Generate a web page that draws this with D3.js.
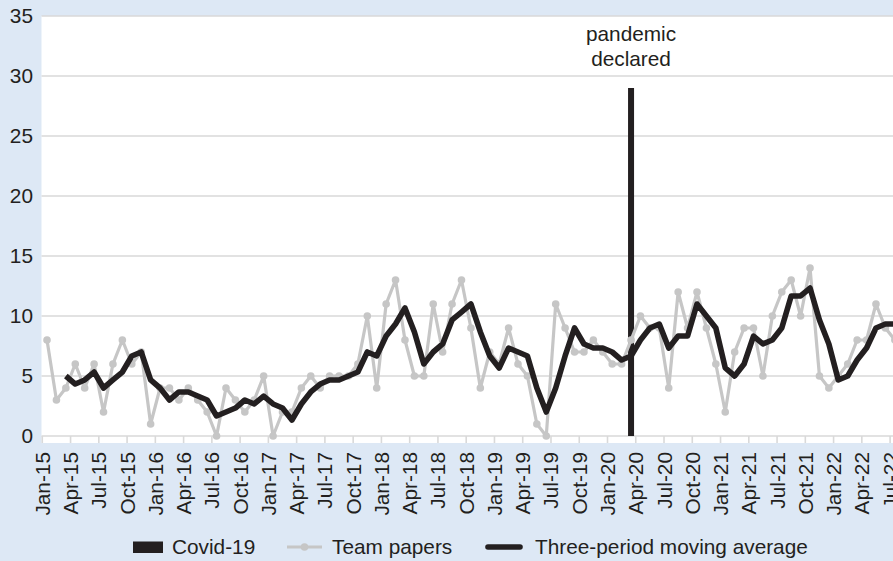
<!DOCTYPE html>
<html>
<head>
<meta charset="utf-8">
<script src="https://cdn.jsdelivr.net/npm/d3@7"></script>
<style>
  html, body { margin: 0; padding: 0; background: #dde8f5; }
  svg { display: block; font-family: "Liberation Sans", Arial, Helvetica, sans-serif; }
</style>
</head>
<body>
<svg id="chart" width="893" height="561"></svg>
<script>
"use strict";

// months Jan-15 .. Sep-22 (the chart is cut off on the right)
var monthNames = ["Jan","Feb","Mar","Apr","May","Jun","Jul","Aug","Sep","Oct","Nov","Dec"];
var years = ["15","16","17","18","19","20","21","22"];
var months = [];
years.forEach(function(y) {
  monthNames.forEach(function(m) { months.push(m + "-" + y); });
});
months = months.slice(0, 93);

var tickLabels = ["Jan-15","Apr-15","Jul-15","Oct-15","Jan-16","Apr-16","Jul-16","Oct-16",
  "Jan-17","Apr-17","Jul-17","Oct-17","Jan-18","Apr-18","Jul-18","Oct-18",
  "Jan-19","Apr-19","Jul-19","Oct-19","Jan-20","Apr-20","Jul-20","Oct-20",
  "Jan-21","Apr-21","Jul-21","Oct-21","Jan-22","Apr-22","Jul-22"];

var yTicks = [0, 5, 10, 15, 20, 25, 30, 35];

// Team papers per month, Jan-15 onwards
var teamPapers = [8, 3, 4, 6, 4, 6, 2, 6, 8, 6, 7, 1,
  4, 4, 3, 4, 3, 2, 0, 4, 3, 2, 3, 5,
  0, 2, 2, 4, 5, 4, 5, 5, 5, 6, 10, 4,
  11, 13, 8, 5, 5, 11, 7, 11, 13, 9, 4, 7,
  6, 9, 6, 5, 1, 0, 11, 9, 7, 7, 8, 7,
  6, 6, 8, 10, 9, 9, 4, 12, 9, 12, 9, 6,
  2, 7, 9, 9, 5, 10, 12, 13, 10, 14, 5, 4,
  5, 6, 8, 8, 11, 9, 8];

// Three-period moving average, starts at Mar-15
var movingAvg = [5, 4.33, 4.67, 5.33, 4, 4.67, 5.33, 6.67, 7, 4.67,
  4, 3, 3.67, 3.67, 3.33, 3, 1.67, 2, 2.33, 3, 2.67, 3.33,
  2.67, 2.33, 1.33, 2.67, 3.67, 4.33, 4.67, 4.67, 5, 5.33, 7, 6.67,
  8.33, 9.33, 10.67, 8.67, 6, 7, 7.67, 9.67, 10.33, 11, 8.67, 6.67,
  5.67, 7.33, 7, 6.67, 4, 2, 4, 6.67, 9, 7.67, 7.33, 7.33,
  7, 6.33, 6.67, 8, 9, 9.33, 7.33, 8.33, 8.33, 11, 10, 9,
  5.67, 5, 6, 8.33, 7.67, 8, 9, 11.67, 11.67, 12.33, 9.67, 7.67,
  4.67, 5, 6.33, 7.33, 9, 9.33, 9.33];

var covidMonths = ["Mar-20"];
var covidValues = [29];

var config = {
  left: 41.5, top: 16, bottom: 436, monthW: 9.42,
  font: 20.8, textColor: "#231f20", grid: "#d9d9d9",
  grey: "#c6c6c6", dark: "#231f20"
};

var svg = d3.select("#chart");

var x = d3.scaleBand()
  .domain(months)
  .range([config.left + 0.8, config.left + 0.8 + months.length * config.monthW])
  .padding(0);
var bw = x.bandwidth();
var y = d3.scaleLinear().domain([0, 35]).range([config.bottom, config.top]);

// plot background
svg.append("rect")
  .attr("x", config.left)
  .attr("y", config.top)
  .attr("width", 893 - config.left)
  .attr("height", config.bottom + 7 - config.top)
  .attr("fill", "#ffffff");

// gridlines
svg.append("g").selectAll("line")
  .data(yTicks)
  .enter().append("line")
  .attr("x1", config.left)
  .attr("x2", 893)
  .attr("y1", function(d) { return y(d); })
  .attr("y2", function(d) { return y(d); })
  .attr("stroke", config.grid)
  .attr("stroke-width", 1.6);

svg.append("g").selectAll("text")
  .data(yTicks)
  .enter().append("text")
  .attr("x", 33)
  .attr("y", function(d) { return y(d); })
  .attr("dy", "0.36em")
  .attr("text-anchor", "end")
  .attr("fill", config.textColor)
  .style("font-size", config.font + "px")
  .text(function(d) { return d; });

// x ticks and labels
var xTickG = svg.append("g");
xTickG.selectAll("line")
  .data(tickLabels)
  .enter().append("line")
  .attr("x1", function(d) { return x(d); })
  .attr("x2", function(d) { return x(d); })
  .attr("y1", config.bottom)
  .attr("y2", config.bottom + 7)
  .attr("stroke", config.grid)
  .attr("stroke-width", 1.6);

xTickG.selectAll("text")
  .data(tickLabels)
  .enter().append("text")
  .attr("transform", function(d) { return "translate(" + x(d) + "," + 452 + ") rotate(-90)"; })
  .attr("dy", "0.36em")
  .attr("text-anchor", "end")
  .attr("fill", config.textColor)
  .style("font-size", config.font + "px")
  .text(function(d) { return d; });

// Covid-19 bar
svg.append("g").selectAll("rect")
  .data(covidMonths)
  .enter().append("rect")
  .attr("x", function(d) { return x(d) + bw / 2 - 3; })
  .attr("y", function(d, i) { return y(covidValues[i]); })
  .attr("width", 6)
  .attr("height", function(d, i) { return y(0) - y(covidValues[i]); })
  .attr("fill", config.dark);

svg.append("text")
  .attr("x", x("Mar-20") + bw / 2)
  .attr("y", 41)
  .attr("text-anchor", "middle")
  .attr("fill", config.textColor)
  .style("font-size", config.font + "px")
  .text("pandemic");
svg.append("text")
  .attr("x", x("Mar-20") + bw / 2)
  .attr("y", 66)
  .attr("text-anchor", "middle")
  .attr("fill", config.textColor)
  .style("font-size", config.font + "px")
  .text("declared");

// team papers line
var paperLine = d3.line()
  .x(function(d, i) { return x(months[i]) + bw / 2; })
  .y(function(d) { return y(d); });

svg.append("path")
  .datum(teamPapers)
  .attr("d", paperLine)
  .attr("fill", "none")
  .attr("stroke", config.grey)
  .attr("stroke-width", 3.2)
  .attr("stroke-linejoin", "round");

svg.append("g").selectAll("circle")
  .data(teamPapers)
  .enter().append("circle")
  .attr("cx", function(d, i) { return x(months[i]) + bw / 2; })
  .attr("cy", function(d) { return y(d); })
  .attr("r", 3.8)
  .attr("fill", config.grey);

// moving average line
var avgLine = d3.line()
  .x(function(d, i) { return x(months[i + 2]) + bw / 2; })
  .y(function(d) { return y(d); });

svg.append("path")
  .datum(movingAvg)
  .attr("d", avgLine)
  .attr("fill", "none")
  .attr("stroke", config.dark)
  .attr("stroke-width", 5.6)
  .attr("stroke-linejoin", "round");

// legend
var legend = svg.append("g").style("font-size", config.font + "px").attr("fill", config.textColor);
legend.append("rect")
  .attr("x", 133).attr("y", 541.5).attr("width", 30).attr("height", 11.5)
  .attr("fill", config.dark);
legend.append("text").attr("x", 172).attr("y", 554).text("Covid-19");

legend.append("line")
  .attr("x1", 287).attr("x2", 322).attr("y1", 547).attr("y2", 547)
  .attr("stroke", config.grey).attr("stroke-width", 3.2);
legend.append("circle")
  .attr("cx", 304.5).attr("cy", 547).attr("r", 3.8)
  .attr("fill", config.grey);
legend.append("text").attr("x", 332).attr("y", 554).text("Team papers");

legend.append("line")
  .attr("x1", 488).attr("x2", 520).attr("y1", 547).attr("y2", 547)
  .attr("stroke", config.dark).attr("stroke-width", 5.6)
  .attr("stroke-linecap", "round");
legend.append("text").attr("x", 535).attr("y", 554).text("Three-period moving average");
</script>
</body>
</html>
